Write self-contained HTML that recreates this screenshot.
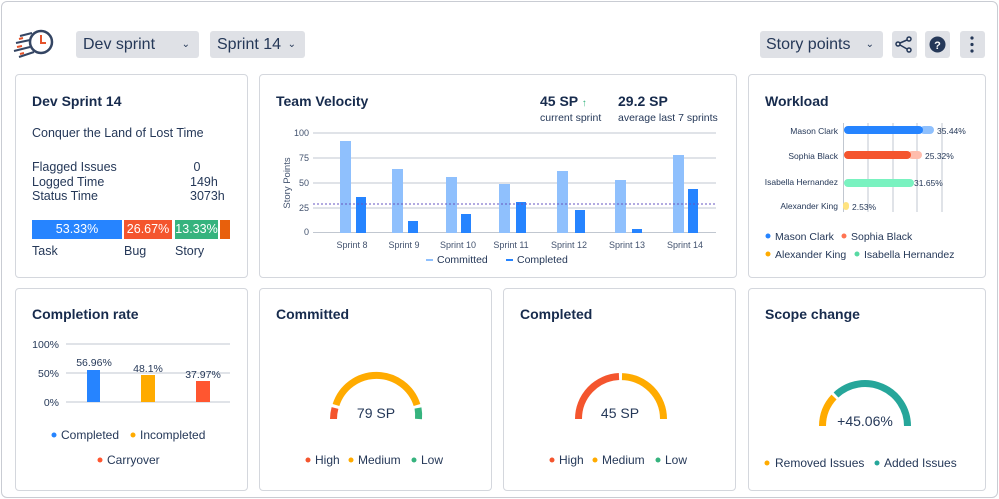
<!DOCTYPE html><html><head><style>
body{margin:0;width:999px;height:499px;background:#fff;font-family:"Liberation Sans",Arial,sans-serif;color:#172b4d;position:relative;overflow:hidden}
.frame{position:absolute;left:1px;top:1px;width:995px;height:495px;border:1px solid #c9ccd3;border-radius:6px}
.card{position:absolute;border:1px solid #d4d7dd;border-radius:4px;background:#fff}
.t{position:absolute;font-size:14px;font-weight:bold;color:#172b4d}
.btn{position:absolute;background:#dfe1e6;border-radius:3px;font-size:16px;color:#253858}
.s{position:absolute;font-size:12.5px;color:#253858;white-space:nowrap}
svg{position:absolute;left:0;top:0}
</style></head><body>
<div class="frame"></div>
<svg width="60" height="60" style="left:10px;top:22px">
<circle cx="31" cy="20" r="11" fill="none" stroke="#344563" stroke-width="2.5"/>
<path d="M31 13 L31 21 L36 21" stroke="#e5532b" stroke-width="2" fill="none"/>
<path d="M22 11 L10 14 M20 18 L6 21 M20 25 L4 29 M24 30 L9 35" stroke="#344563" stroke-width="2"/>
<path d="M13 16 L9 17 M12 24 L7 25 M14 31 L10 32" stroke="#e5532b" stroke-width="2"/>
</svg>
<div class="btn" style="left:76px;top:31px;width:123px;height:27px;line-height:27px;padding-left:7px;box-sizing:border-box">Dev sprint<span style="position:absolute;right:9px;font-size:10px">⌄</span></div>
<div class="btn" style="left:210px;top:31px;width:95px;height:27px;line-height:27px;padding-left:7px;box-sizing:border-box">Sprint 14<span style="position:absolute;right:9px;font-size:10px">⌄</span></div>
<div class="btn" style="left:760px;top:31px;width:123px;height:27px;line-height:27px;padding-left:6px;box-sizing:border-box">Story points<span style="position:absolute;right:9px;font-size:10px">⌄</span></div>
<div class="btn" style="left:892px;top:31px;width:25px;height:27px"></div>
<div class="btn" style="left:925px;top:31px;width:25px;height:27px"></div>
<div class="btn" style="left:960px;top:31px;width:25px;height:27px"></div>
<svg width="999" height="80">
<g stroke="#253858" stroke-width="1.5" fill="none"><circle cx="898" cy="44" r="2"/><circle cx="909" cy="39" r="2"/><circle cx="909" cy="50" r="2"/><path d="M900 43 L907 40 M900 45 L907 49"/></g>
<circle cx="937.5" cy="44.5" r="8" fill="#253858"/><text x="937.5" y="49" font-size="11" font-weight="bold" fill="#fff" text-anchor="middle" font-family="Liberation Sans">?</text>
<g fill="#253858"><circle cx="972" cy="38" r="1.6"/><circle cx="972" cy="44.5" r="1.6"/><circle cx="972" cy="51" r="1.6"/></g>
</svg>

<div class="card" style="left:15px;top:74px;width:231px;height:202px"></div>
<div class="card" style="left:259px;top:74px;width:476px;height:202px"></div>
<div class="card" style="left:748px;top:74px;width:236px;height:202px"></div>
<div class="card" style="left:15px;top:288px;width:231px;height:201px"></div>
<div class="card" style="left:259px;top:288px;width:231px;height:201px"></div>
<div class="card" style="left:503px;top:288px;width:231px;height:201px"></div>
<div class="card" style="left:748px;top:288px;width:236px;height:201px"></div>

<div class="t" style="left:32px;top:93px">Dev Sprint 14</div>
<div class="s" style="left:32px;top:126px">Conquer the Land of Lost Time</div>
<div class="s" style="left:32px;top:160px;line-height:14.5px">Flagged Issues<br>Logged Time<br>Status Time</div>
<div class="s" style="left:190px;top:160px;line-height:14.5px">&nbsp;0<br>149h<br>3073h</div>
<div style="position:absolute;left:32px;top:220px;width:90px;height:19px;background:#2684ff;color:#fff;font-size:12.5px;text-align:center;line-height:19px">53.33%</div>
<div style="position:absolute;left:124px;top:220px;width:48px;height:19px;background:#f4552e;color:#fff;font-size:12.5px;text-align:center;line-height:19px">26.67%</div>
<div style="position:absolute;left:175px;top:220px;width:43px;height:19px;background:#36b37e;color:#fff;font-size:12.5px;text-align:center;line-height:19px">13.33%</div>
<div style="position:absolute;left:220px;top:220px;width:10px;height:19px;background:#e8600c"></div>
<div class="s" style="left:32px;top:244px">Task</div>
<div class="s" style="left:124px;top:244px">Bug</div>
<div class="s" style="left:175px;top:244px">Story</div>

<div class="t" style="left:276px;top:93px">Team Velocity</div>
<div style="position:absolute;left:540px;top:93px;font-size:14px;font-weight:bold">45 SP <span style="color:#36b37e;font-size:10px">↑</span></div>
<div style="position:absolute;left:618px;top:93px;font-size:14px;font-weight:bold">29.2 SP</div>
<div class="s" style="left:540px;top:112px;font-size:10.5px">current sprint</div>
<div class="s" style="left:618px;top:112px;font-size:10.5px">average last 7 sprints</div>
<svg width="999" height="499" font-family="Liberation Sans" font-size="9" fill="#42526e">
<g stroke="#c1c7d0" stroke-width="1"><path d="M313 133H716M313 158H716M313 183H716M313 208H716M313 232.5H716"/></g>
<g text-anchor="end"><text x="309" y="136">100</text><text x="309" y="161">75</text><text x="309" y="186">50</text><text x="309" y="211">25</text><text x="309" y="235">0</text></g>
<text transform="translate(290 183) rotate(-90)" text-anchor="middle" font-size="9.5">Story Points</text>
<g fill="#8fc0fd">
<rect x="340" y="141" width="11" height="92"/><rect x="392" y="169" width="11" height="64"/><rect x="446" y="177" width="11" height="56"/><rect x="499" y="184" width="11" height="49"/><rect x="557" y="171" width="11" height="62"/><rect x="615" y="180" width="11" height="53"/><rect x="673" y="155" width="11" height="78"/></g>
<g fill="#2684ff">
<rect x="356" y="197" width="10" height="36"/><rect x="408" y="221" width="10" height="12"/><rect x="461" y="214" width="10" height="19"/><rect x="516" y="202" width="10" height="31"/><rect x="575" y="210" width="10" height="23"/><rect x="632" y="229" width="10" height="4"/><rect x="688" y="189" width="10" height="44"/></g>
<path d="M313 204H716" stroke="#6554c0" stroke-dasharray="2 2" stroke-width="1"/>
<g text-anchor="middle"><text x="352" y="248">Sprint 8</text><text x="404" y="248">Sprint 9</text><text x="458" y="248">Sprint 10</text><text x="511" y="248">Sprint 11</text><text x="569" y="248">Sprint 12</text><text x="627" y="248">Sprint 13</text><text x="685" y="248">Sprint 14</text></g>
<rect x="426" y="259" width="7" height="2" fill="#8fc0fd"/><text x="437" y="263" font-size="10.5" fill="#253858">Committed</text>
<rect x="506" y="259" width="7" height="2" fill="#2684ff"/><text x="517" y="263" font-size="10.5" fill="#253858">Completed</text>

<!-- workload -->
<g stroke="#c1c7d0"><path d="M843.5 123V212M868 123V212M893 123V212M917 123V212M942 123V212"/></g>
<g text-anchor="end" font-size="8.5" fill="#253858"><text x="838" y="134">Mason Clark</text><text x="838" y="159">Sophia Black</text><text x="838" y="185">Isabella Hernandez</text><text x="838" y="209">Alexander King</text></g>
<rect x="920" y="126" width="14" height="8" rx="4" fill="#8fc0fd"/><rect x="844" y="126" width="79" height="8" rx="4" fill="#2684ff"/>
<rect x="908" y="151" width="14" height="8" rx="4" fill="#ffbdad"/><rect x="844" y="151" width="67" height="8" rx="4" fill="#f4552e"/>
<rect x="844" y="179" width="70" height="8" rx="4" fill="#79f2c0"/>
<rect x="843" y="202" width="6" height="8" rx="3" fill="#ffe380"/>
<g font-size="8.5" fill="#253858"><text x="937" y="134">35.44%</text><text x="925" y="159">25.32%</text><text x="914" y="186">31.65%</text><text x="852" y="210">2.53%</text></g>
<g font-size="10.5" fill="#253858"><circle cx="768" cy="236" r="2.5" fill="#2684ff"/><text x="775" y="240">Mason Clark</text>
<circle cx="844" cy="236" r="2.5" fill="#ff7452"/><text x="851" y="240">Sophia Black</text>
<circle cx="768" cy="254" r="2.5" fill="#ffab00"/><text x="775" y="258">Alexander King</text>
<circle cx="857" cy="254" r="2.5" fill="#57d9a3"/><text x="864" y="258">Isabella Hernandez</text></g>

<!-- completion -->
<g stroke="#c1c7d0"><path d="M66 344H230M66 373H230M66 402H230"/></g>
<g text-anchor="end" font-size="10.5" fill="#253858"><text x="59" y="348">100%</text><text x="59" y="377">50%</text><text x="59" y="406">0%</text></g>
<rect x="87" y="370" width="13" height="32" fill="#2684ff"/><rect x="141" y="375" width="14" height="27" fill="#ffab00"/><rect x="196" y="381" width="14" height="21" fill="#ff5630"/>
<g text-anchor="middle" font-size="10.5" fill="#253858"><text x="94" y="366">56.96%</text><text x="148" y="372">48.1%</text><text x="203" y="378">37.97%</text></g>
<g font-size="12" fill="#253858"><circle cx="54" cy="435" r="2.5" fill="#2684ff"/><text x="61" y="439">Completed</text>
<circle cx="133" cy="435" r="2.5" fill="#ffab00"/><text x="140" y="439">Incompleted</text>
<circle cx="100" cy="460" r="2.5" fill="#ff5630"/><text x="107" y="464">Carryover</text></g>

<!-- gauges -->
<g fill="none" stroke-width="7">
<path d="M333.5 419 A42.5 42.5 0 0 1 335 408" stroke="#f4552e"/>
<path d="M336 405 A42.5 42.5 0 0 1 417 405" stroke="#ffab00"/>
<path d="M418 408 A42.5 42.5 0 0 1 418.5 419" stroke="#36b37e"/>
<path d="M578.5 419 A42.5 42.5 0 0 1 619 376.5" stroke="#f4552e"/>
<path d="M622 376.6 A42.5 42.5 0 0 1 663.5 419" stroke="#ffab00"/>
<path d="M822.5 426 A42.5 42.5 0 0 1 834 397" stroke="#ffab00"/>
<path d="M836 395 A42.5 42.5 0 0 1 907.5 426" stroke="#26a69a"/>
</g>
<g text-anchor="middle" font-size="14" fill="#253858"><text x="376" y="418">79 SP</text><text x="620" y="418">45 SP</text><text x="865" y="426">+45.06%</text></g>
<g font-size="12" fill="#253858">
<circle cx="308" cy="460" r="2.5" fill="#f4552e"/><text x="315" y="464">High</text>
<circle cx="351" cy="460" r="2.5" fill="#ffab00"/><text x="358" y="464">Medium</text>
<circle cx="414" cy="460" r="2.5" fill="#36b37e"/><text x="421" y="464">Low</text>
<circle cx="552" cy="460" r="2.5" fill="#f4552e"/><text x="559" y="464">High</text>
<circle cx="595" cy="460" r="2.5" fill="#ffab00"/><text x="602" y="464">Medium</text>
<circle cx="658" cy="460" r="2.5" fill="#36b37e"/><text x="665" y="464">Low</text>
<circle cx="767" cy="463" r="2.5" fill="#ffab00"/><text x="775" y="467">Removed Issues</text>
<circle cx="877" cy="463" r="2.5" fill="#26a69a"/><text x="884" y="467">Added Issues</text>
</g>
</svg>
<div class="t" style="left:32px;top:306px">Completion rate</div>
<div class="t" style="left:276px;top:306px">Committed</div>
<div class="t" style="left:520px;top:306px">Completed</div>
<div class="t" style="left:765px;top:306px">Scope change</div>
<div class="t" style="left:765px;top:93px">Workload</div>
</body></html>
